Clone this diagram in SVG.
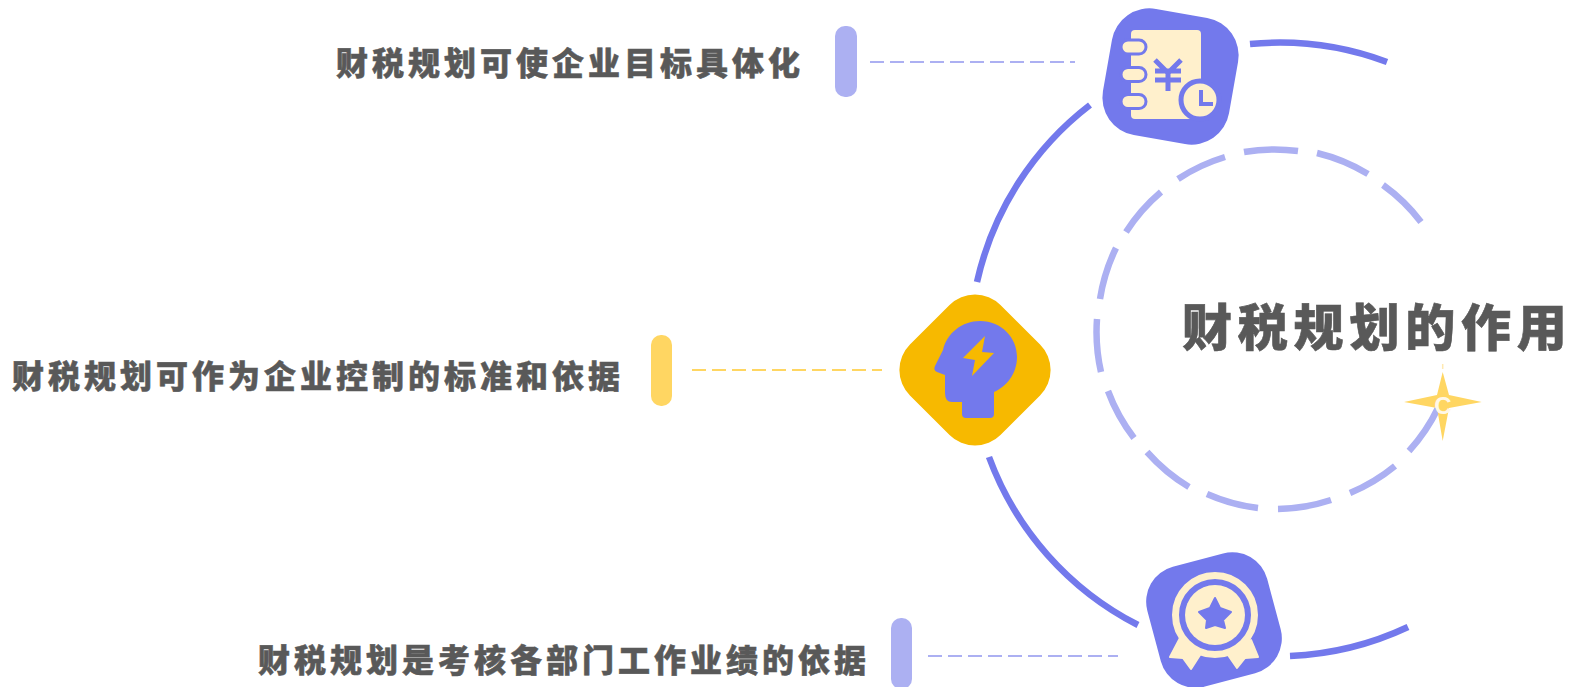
<svg xmlns="http://www.w3.org/2000/svg" width="1569" height="687" viewBox="0 0 1569 687">
<style>
.arc{fill:none;stroke:#7379ec;stroke-width:6.500}
.dash{fill:none;stroke:#acb0f2;stroke-width:6.500}
.lb{font-family:"Noto Sans CJK SC","Liberation Sans",sans-serif;font-weight:900;font-size:32px;fill:#595959;stroke:#595959;stroke-width:.5px;letter-spacing:4px}
.title{font-family:"Noto Sans CJK SC","Liberation Sans",sans-serif;font-weight:900;font-size:50px;fill:#595959;stroke:#595959;stroke-width:.6px;letter-spacing:5.800px}
.lead{stroke-width:2;stroke-dasharray:14 6;fill:none}
</style>
<g id="connectors">
<path class="arc" d="M1250 44A308 308 0 0 1 1387 62"/>
<path class="arc" d="M1090 105A308 308 0 0 0 977 282"/>
<path class="arc" d="M989 457A308 308 0 0 0 1138 625"/>
<path class="arc" d="M1290 656A308 308 0 0 0 1408 627"/>
<path class="lead" stroke="#acb0f2" d="M870 62H1075"/>
<path class="lead" stroke="#ffd662" d="M692 370H882"/>
<path class="lead" stroke="#acb0f2" d="M928 656H1118"/>
</g>
<g id="center">
<path class="dash" d="M1244 152A180 180 0 0 1 1298 151M1317 153A180 180 0 0 1 1368 174M1383 185A180 180 0 0 1 1421 222M1225 157A180 180 0 0 0 1178 179M1161 192A180 180 0 0 0 1126 232M1116 248A180 180 0 0 0 1100 299M1097 319A180 180 0 0 0 1101 372M1108 391A180 180 0 0 0 1134 438M1147 452A180 180 0 0 0 1189 487M1207 494A180 180 0 0 0 1258 508M1278 509A180 180 0 0 0 1331 500M1350 493A180 180 0 0 0 1395 466M1409 451A180 180 0 0 0 1438 408"/>
<text class="title" x="1182" y="346">财税规划的作<tspan style="letter-spacing:0">用</tspan></text>
<path d="M1442.700 364V369" stroke="#ffe9b0" stroke-width="1.500"/>
<path d="M1442.700 372L1449 395L1481.700 402L1449 408L1442.700 441L1437 408L1404 402L1437 395Z" fill="#ffd662"/>
<text x="1443" y="414" text-anchor="middle" style="font-family:'Liberation Sans',sans-serif;font-weight:700;font-size:24px;fill:#fff8e8">C</text>
</g>
<g id="node-top">
<rect x="1106.500" y="12.500" width="128" height="128" rx="38" fill="#7379ec" transform="rotate(10 1170.500 76.500)"/>
<rect x="1131" y="30" width="70" height="89" rx="4" fill="#fff0cc"/>
<g fill="#fff0cc" stroke="#7379ec" stroke-width="3"><rect x="1121" y="40" width="25" height="14" rx="7"/><rect x="1121" y="67.500" width="25" height="14" rx="7"/><rect x="1121" y="94.500" width="25" height="14" rx="7"/></g>
<path d="M1155 60L1168 73L1181 60M1155 71H1181M1155 80H1181M1168 73V91" fill="none" stroke="#7379ec" stroke-width="5"/>
<circle cx="1200" cy="100" r="19" fill="#fff0cc" stroke="#7379ec" stroke-width="5"/>
<path d="M1201 90V104H1213" fill="none" stroke="#7379ec" stroke-width="4"/>
</g>
<g id="node-mid">
<rect x="911" y="306" width="128" height="128" rx="36" fill="#f7b900" transform="rotate(45 975 370)"/>
<path d="M980 321C1002 321 1017 338 1017 357C1017 374 1006 387 994 392V414Q994 418 990 418H966Q962 418 962 414V402H952Q945 402 945 393V375L937 372Q933 370 935 366L943 350C947 333 962 321 980 321Z" fill="#7379ec"/>
<path d="M985 336L963 358L975 360L972 376L994 353L982 352Z" fill="#f7b900"/>
</g>
<g id="node-bot">
<rect x="1152" y="558" width="124" height="124" rx="36" fill="#7379ec" transform="rotate(-15 1214 620)"/>
<path d="M1180 638L1170 657L1183 658L1191 669L1200 655ZM1251 640L1258 657L1245 658L1237 668L1228 655Z" fill="#fff0cc" stroke="#fff0cc" stroke-width="2" stroke-linejoin="round"/>
<circle cx="1215" cy="615" r="39.500" fill="none" stroke="#fff0cc" stroke-width="7"/>
<circle cx="1215" cy="615" r="30" fill="#fff0cc"/>
<path d="M1215 598L1220 608L1231 612L1223 620L1225 628L1215 625L1206 628L1207 620L1199 612L1210 608Z" fill="#7379ec" stroke="#7379ec" stroke-width="2" stroke-linejoin="round"/>
</g>
<g id="label-1">
<rect x="835" y="26" width="22" height="71" rx="10" fill="#acb0f2"/>
<text class="lb" x="336" y="75">财税规划可使企业目标具体化</text>
</g>
<g id="label-2">
<rect x="651" y="335" width="21" height="71" rx="10" fill="#ffd662"/>
<text class="lb" x="12" y="388">财税规划可作为企业控制的标准和依据</text>
</g>
<g id="label-3">
<rect x="891" y="618" width="21" height="71" rx="10" fill="#acb0f2"/>
<text class="lb" x="258" y="672">财税规划是考核各部门工作业绩的依据</text>
</g>
</svg>
